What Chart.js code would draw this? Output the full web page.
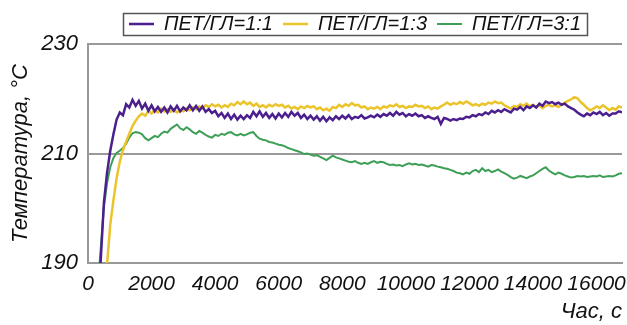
<!DOCTYPE html>
<html>
<head>
<meta charset="utf-8">
<script src="https://cdn.jsdelivr.net/npm/chart.js@4"></script>
<style>
html,body{margin:0;padding:0;background:#fff;}
#wrap{width:627px;height:325px;position:relative;}
</style>
</head>
<body>
<div id="wrap"><canvas id="c" width="627" height="325"></canvas></div>
<script>
const seriesNames = ['ПЕТ/ГЛ=1:1', 'ПЕТ/ГЛ=1:3', 'ПЕТ/ГЛ=3:1'];
const yTickValues = [190, 210, 230];
const xTickValues = [0, 2000, 4000, 6000, 8000, 10000, 12000, 14000, 16000];

const times = [
0,100,200,300,400,500,600,700,800,900,
1000,1100,1200,1300,1400,1500,1600,1700,1800,1900,
2000,2100,2200,2300,2400,2500,2600,2700,2800,2900,
3000,3100,3200,3300,3400,3500,3600,3700,3800,3900,
4000,4100,4200,4300,4400,4500,4600,4700,4800,4900,
5000,5100,5200,5300,5400,5500,5600,5700,5800,5900,
6000,6100,6200,6300,6400,6500,6600,6700,6800,6900,
7000,7100,7200,7300,7400,7500,7600,7700,7800,7900,
8000,8100,8200,8300,8400,8500,8600,8700,8800,8900,
9000,9100,9200,9300,9400,9500,9600,9700,9800,9900,
10000,10100,10200,10300,10400,10500,10600,10700,10800,10900,
11000,11100,11200,11300,11400,11500,11600,11700,11800,11900,
12000,12100,12200,12300,12400,12500,12600,12700,12800,12900,
13000,13100,13200,13300,13400,13500,13600,13700,13800,13900,
14000,14100,14200,14300,14400,14500,14600,14700,14800,14900,
15000,15100,15200,15300,15400,15500,15600,15700,15800,15900,
16000,16100,16200,16300,16400,16500,16600,16700,16800
];

const pet11 = [
150,160,170,181,190.5,201,206.5,210.5,213.5,216.2,
217.5,217.0,219.0,218.4,219.8,218.7,219.6,218.2,219.1,217.8,
218.8,217.7,218.5,217.6,218.4,217.5,218.6,217.8,218.7,217.7,
218.4,217.9,218.8,217.9,218.7,217.8,218.6,217.6,218.1,217.4,
217.8,216.8,217.4,216.5,217.3,216.3,217.1,216.2,216.9,216.3,
217.0,216.5,217.6,216.8,217.7,216.7,217.4,216.5,217.2,216.4,
217.3,216.6,217.4,216.7,217.6,216.9,217.4,216.5,217.1,216.3,
216.9,216.2,216.8,216.0,216.7,215.9,216.6,216.1,216.8,216.3,
216.9,216.4,217.0,216.3,216.7,216.5,217.0,216.4,216.6,216.9,
216.6,217.1,216.7,217.2,216.9,217.4,216.9,217.6,217.1,217.4,
216.8,217.2,216.9,217.3,216.8,217.0,216.5,216.8,216.5,216.3,
216.7,215.4,216.5,216.3,216.0,216.3,216.1,216.4,216.3,216.7,
216.6,217.0,216.8,217.2,217.0,217.5,217.2,217.8,217.5,217.9,
217.6,218.1,217.8,217.5,218.2,218.0,218.5,217.9,218.6,218.3,
218.8,218.4,219.1,218.7,219.5,219.2,219.4,219.0,219.3,218.9,
219.1,218.6,218.3,218.0,217.5,217.1,216.8,217.3,217.0,217.5,
217.2,217.6,217.0,217.4,216.9,217.3,217.3,217.7,217.5
];

const pet13 = [
140,150,160,168,176,183,189.8,197,201.5,205.5,
208.5,210.6,212.2,213.6,215.0,216.0,216.8,217.3,216.9,217.8,
217.3,218.0,217.5,218.2,217.7,218.1,217.6,218.0,217.5,217.9,
217.7,218.2,217.9,218.4,218.1,218.6,218.3,218.8,218.5,219.0,
218.6,218.9,218.4,218.8,218.5,219.1,218.8,219.4,219.0,219.5,
219.0,219.3,218.7,219.1,218.5,218.8,218.4,218.9,218.6,219.0,
218.7,218.9,218.4,218.7,218.2,218.5,218.1,218.6,218.3,218.7,
218.4,218.6,218.1,218.4,217.9,218.2,217.8,218.5,218.3,218.9,
218.5,219.0,218.7,219.2,218.8,218.9,218.4,218.6,218.1,218.4,
218.2,218.5,218.1,218.6,218.4,218.8,218.6,219.0,218.5,218.7,
218.3,218.6,218.5,218.9,218.6,218.7,218.3,218.6,218.1,218.4,
218.2,218.6,218.9,219.3,218.9,219.2,219.0,219.4,219.1,219.5,
219.2,218.8,219.0,218.7,219.1,218.9,219.3,219.1,219.5,219.2,
219.3,218.8,218.5,218.2,218.7,218.5,219.0,218.7,219.1,218.6,
218.9,218.5,218.8,218.3,218.7,218.9,218.6,218.8,218.5,219.0,
219.3,219.6,219.9,220.3,220.1,219.4,218.9,218.3,217.9,218.2,
218.6,218.3,218.8,218.4,217.9,218.3,218.0,218.6,218.4
];

const pet31 = [
155,165,177,185,192.6,200.2,204.6,207.5,209.2,210.1,
210.5,211.0,211.8,212.9,213.7,213.9,213.8,213.5,212.8,212.4,
212.8,213.2,213.0,213.6,214.0,213.8,214.5,214.9,215.3,214.6,
214.3,214.8,214.4,213.9,213.6,214.1,213.8,213.4,213.1,212.9,
213.4,213.2,213.6,213.4,213.8,213.9,213.5,213.3,213.6,213.3,
213.5,213.8,213.9,213.2,212.7,212.5,212.4,212.1,212.0,211.8,
211.6,211.5,211.3,211.0,210.8,210.6,210.4,210.2,209.9,210.0,
209.8,209.6,209.7,209.4,209.1,208.8,209.2,209.6,209.3,209.1,
208.9,208.7,208.5,208.4,208.6,208.3,208.1,208.3,208.1,208.4,
208.6,208.3,208.5,208.4,208.1,207.9,208.0,207.8,207.9,207.7,
208.0,208.2,208.0,208.1,207.9,208.0,207.8,207.6,207.9,207.8,
207.6,207.5,207.3,207.2,207.0,206.8,206.5,206.4,206.2,206.5,
206.3,206.8,207.0,206.6,207.3,206.8,207.0,206.6,206.8,207.1,
206.7,206.4,206.1,205.7,205.4,205.6,205.9,205.7,205.5,205.8,
206.0,206.4,206.8,207.2,207.5,206.9,206.5,206.2,206.5,206.3,
206.0,205.8,205.6,205.7,205.9,205.8,205.9,205.7,205.8,205.9,
205.8,206.0,205.7,205.8,205.9,205.8,206.0,206.3,206.4
];

const colors = ['#4b1f8e', '#ebc42c', '#3e9f57'];
const FONT = '"Liberation Sans", Arial, Helvetica, sans-serif';

function pts(vals){ return times.map((t,i)=>({x:t, y:vals[i]})); }

const legendBox = {
  id: 'legendBox',
  afterDraw(chart){
    const lg = chart.legend;
    if(!lg || !lg.legendHitBoxes || !lg.legendHitBoxes.length) return;
    let l=Infinity,r=-Infinity,t=Infinity,b=-Infinity;
    lg.legendHitBoxes.forEach(h=>{l=Math.min(l,h.left);r=Math.max(r,h.left+h.width);t=Math.min(t,h.top);b=Math.max(b,h.top+h.height);});
    const ctx = chart.ctx;
    ctx.save();
    ctx.strokeStyle = '#555';
    ctx.lineWidth = 1.5;
    ctx.strokeRect(Math.round(l-6)+0.5, Math.round(t-1)+0.5, Math.round(r-l+12), Math.round(b-t+2));
    ctx.restore();
  }
};

new Chart(document.getElementById('c'), {
  type: 'line',
  data: {
    datasets: [
      {label: seriesNames[0], data: pts(pet11), borderColor: colors[0], backgroundColor: colors[0], borderWidth: 2.5, pointRadius: 0, tension: 0},
      {label: seriesNames[1], data: pts(pet13), borderColor: colors[1], backgroundColor: colors[1], borderWidth: 2.5, pointRadius: 0, tension: 0},
      {label: seriesNames[2], data: pts(pet31), borderColor: colors[2], backgroundColor: colors[2], borderWidth: 2, pointRadius: 0, tension: 0}
    ]
  },
  options: {
    responsive: false,
    animation: false,
    layout: {padding: {left: 0, right: 5, top: 4, bottom: 0}},
    plugins: {
      legend: {
        display: true,
        position: 'top',
        fullSize: false,
        labels: {
          usePointStyle: true,
          pointStyle: 'line',
          pointStyleWidth: 25,
          boxHeight: 20,
          padding: 10,
          color: '#111',
          font: {family: FONT, size: 20, style: 'italic'}
        }
      },
      tooltip: {enabled: false}
    },
    scales: {
      x: {
        type: 'linear',
        min: 0,
        max: 16800,
        afterFit(s){ s.height = 62; s.paddingLeft = 0; s.paddingRight = 0; },
        afterBuildTicks(s){ s.ticks = xTickValues.map(v => ({value: v})); },
        ticks: {autoSkip: false, maxRotation: 0, minRotation: 0, padding: 9, color: '#111',
          font: {family: FONT, size: 21, style: 'italic'},
          callback: (v) => String(v)},
        grid: {display: false, drawTicks: false},
        border: {display: true, color: '#999', width: 2},
        title: {display: true, text: 'Час, с', align: 'end', color: '#111', padding: {top: 0, bottom: 0},
          font: {family: FONT, size: 22, style: 'italic'}}
      },
      y: {
        min: 190,
        max: 230,
        afterFit(s){ s.width = 88; },
        afterBuildTicks(s){ s.ticks = yTickValues.map(v => ({value: v})); },
        ticks: {padding: 10, color: '#111', font: {family: FONT, size: 22, style: 'italic'}},
        grid: {display: true, color: '#999', lineWidth: 2, drawTicks: false},
        border: {display: true, color: '#999', width: 2},
        title: {display: true, text: 'Температура, °C', color: '#111', padding: {top: 8, bottom: 4},
          font: {family: FONT, size: 22, style: 'italic'}}
      }
    }
  },
  plugins: [legendBox]
});
</script>
</body>
</html>
